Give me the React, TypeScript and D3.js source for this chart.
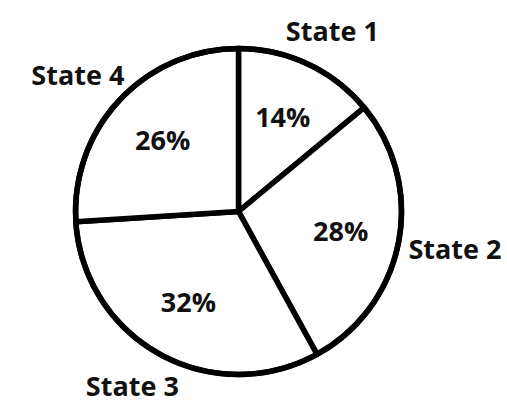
import React from 'react';
import * as d3 from 'd3';

// Pie values as printed on the chart (percent)
const states = ['State 1', 'State 2', 'State 3', 'State 4'];
const shares = [14, 28, 32, 26];

const width = 507;
const height = 408;

const App: React.FC = () => {
  const cx = 238.5;
  const cy = 211.5;
  const radius = 163;
  const fontSize = 27;

  const data = states.map((name, i) => ({ name, value: shares[i] }));

  // clockwise from 12 o'clock, keep data order
  const pie = d3.pie<{ name: string; value: number }>()
    .value(d => d.value)
    .sort(null);
  const arcs = pie(data);

  const arc = d3.arc<d3.PieArcDatum<{ name: string; value: number }>>()
    .innerRadius(0)
    .outerRadius(radius);

  const valueArc = d3.arc<d3.PieArcDatum<{ name: string; value: number }>>()
    .innerRadius(104)
    .outerRadius(104);

  // names sit outside the rim; push the text box outward by half its size
  const namePos = (a: d3.PieArcDatum<{ name: string; value: number }>) => {
    const mid = (a.startAngle + a.endAngle) / 2;
    const sx = Math.sin(mid);
    const sy = -Math.cos(mid);
    const w = a.data.name.length * fontSize * 0.48;
    const h = fontSize * 0.74;
    return [sx * (radius + 12 + w / 2), sy * (radius + 26 + h / 2)];
  };

  const textStyle: React.CSSProperties = {
    fontFamily: '"Open Sans", "Noto Sans", sans-serif',
    fontWeight: 700,
    fontSize,
  };

  return (
    <svg
      width={width}
      height={height}
      style={{ position: 'absolute', left: 0, top: 0, background: '#fff' }}
    >
      <g transform={`translate(${cx},${cy})`}>
        {arcs.map(a => (
          <path
            key={a.data.name}
            d={arc(a) || ''}
            fill="#fff"
            stroke="#000"
            strokeWidth={5.5}
            strokeLinejoin="round"
          />
        ))}
        {/* outline drawn on top so the rim is even */}
        <circle r={radius} fill="none" stroke="#000" strokeWidth={5.5} />

        {arcs.map(a => {
          const [x, y] = valueArc.centroid(a);
          return (
            <text
              key={`v-${a.data.name}`}
              x={x}
              y={y}
              dy="0.36em"
              textAnchor="middle"
              fill="#111"
              style={textStyle}
            >
              {`${a.data.value}%`}
            </text>
          );
        })}

        {arcs.map(a => {
          const [x, y] = namePos(a);
          return (
            <text
              key={`n-${a.data.name}`}
              x={x}
              y={y}
              dy="0.36em"
              textAnchor="middle"
              fill="#111"
              style={textStyle}
            >
              {a.data.name}
            </text>
          );
        })}
      </g>
    </svg>
  );
};

export default App;
